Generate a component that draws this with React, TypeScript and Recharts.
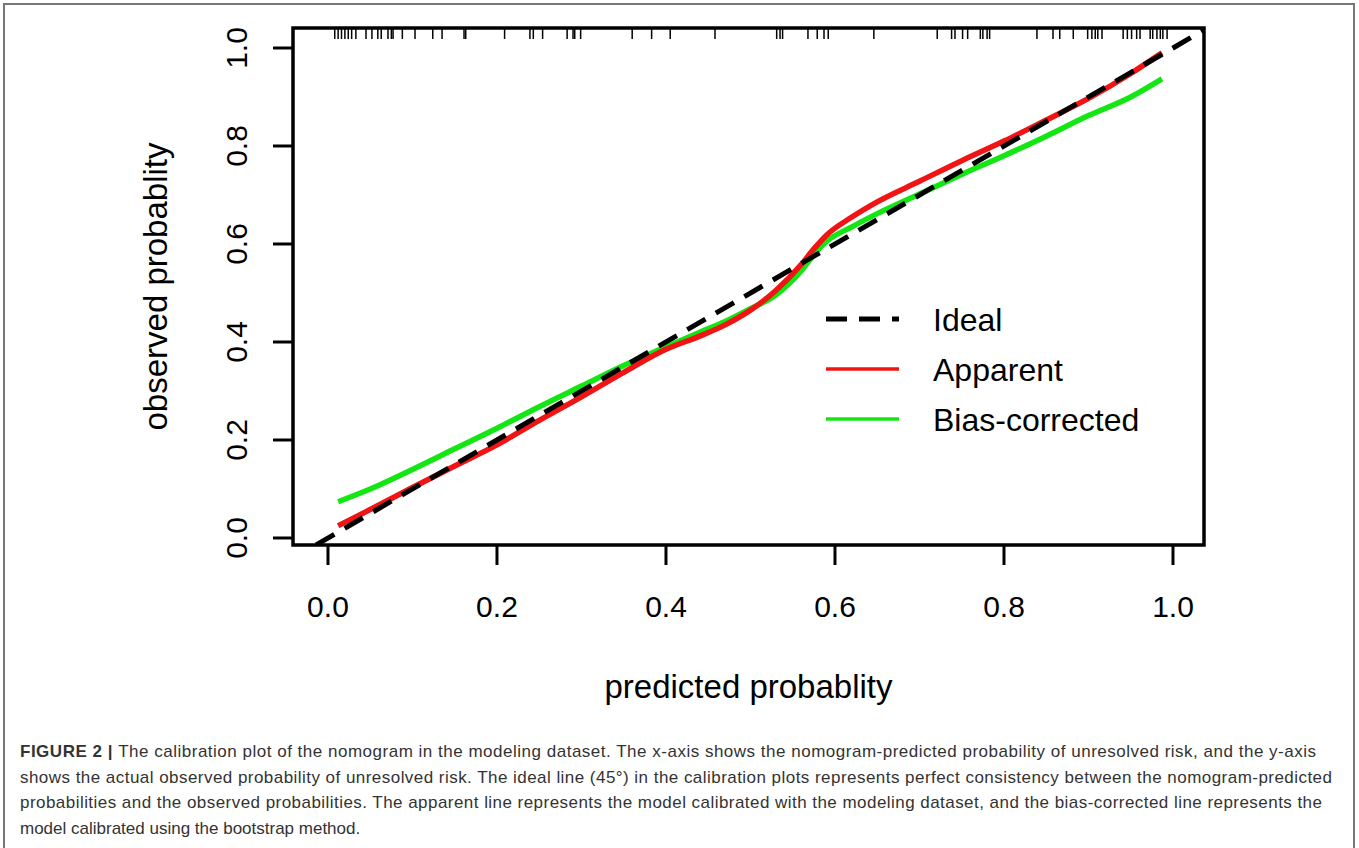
import React from 'react';
import { ComposedChart, Line, Scatter, XAxis, YAxis, ReferenceArea, Legend, Label } from 'recharts';

const FONT = '"Liberation Sans", Arial, Helvetica, sans-serif';
const RED = '#f01414';
const GREEN = '#14e614';

// calibration curves
const predicted = [0.012, 0.05, 0.1, 0.15, 0.2, 0.25, 0.3, 0.35, 0.4, 0.44, 0.47, 0.5, 0.53, 0.56, 0.575, 0.59, 0.62, 0.65, 0.7, 0.75, 0.8, 0.85, 0.9, 0.95, 0.987];
const apparent = [0.025, 0.058, 0.103, 0.147, 0.19, 0.24, 0.288, 0.338, 0.385, 0.412, 0.435, 0.465, 0.505, 0.558, 0.59, 0.618, 0.655, 0.686, 0.728, 0.77, 0.81, 0.853, 0.897, 0.948, 0.99];
const biasCorrected = [0.074, 0.1, 0.14, 0.182, 0.224, 0.268, 0.31, 0.352, 0.39, 0.42, 0.442, 0.468, 0.496, 0.545, 0.578, 0.605, 0.635, 0.662, 0.702, 0.742, 0.78, 0.82, 0.862, 0.9, 0.937];

// 45 degree reference line (clipped to the plot box)
const idealX = [-0.014, 1.0367];

// rug of predicted probabilities along the top
const rugX = [
  0.008, 0.012, 0.016, 0.02, 0.024, 0.028, 0.033, 0.045, 0.052, 0.059, 0.063, 0.071, 0.075, 0.077, 0.088,
  0.103, 0.124, 0.135, 0.161, 0.163, 0.209, 0.239, 0.243, 0.254, 0.283, 0.29, 0.292, 0.299, 0.36, 0.383,
  0.405, 0.458, 0.531, 0.535, 0.538, 0.568, 0.579, 0.587, 0.592, 0.646, 0.721, 0.738, 0.742, 0.751, 0.757,
  0.772, 0.775, 0.78, 0.783, 0.839, 0.858, 0.866, 0.882, 0.899, 0.904, 0.908, 0.911, 0.916, 0.941, 0.946,
  0.951, 0.957, 0.961, 0.973, 0.976, 0.981, 0.985, 0.988, 0.993,
];

const ticks = [0, 0.2, 0.4, 0.6, 0.8, 1.0];

const legendNames = ['Ideal', 'Apparent', 'Bias-corrected'];
const legendColors = ['#000', RED, GREEN];

const captionLines = [
  'The calibration plot of the nomogram in the modeling dataset. The x-axis shows the nomogram-predicted probability of unresolved risk, and the y-axis',
  'shows the actual observed probability of unresolved risk. The ideal line (45°) in the calibration plots represents perfect consistency between the nomogram-predicted',
  'probabilities and the observed probabilities. The apparent line represents the model calibrated with the modeling dataset, and the bias-corrected line represents the',
  'model calibrated using the bootstrap method.',
];

const xDomain: [number, number] = [-0.0414, 1.0367];
const yDomain: [number, number] = [-0.0143, 1.0408];

const apparentData = predicted.map((x, i) => ({ x, y: apparent[i] }));
const biasData = predicted.map((x, i) => ({ x, y: biasCorrected[i] }));
const idealData = idealX.map((x) => ({ x, y: x }));
const rugData = rugX.map((x) => ({ x, y: yDomain[1] }));

const XTick = ({ x, y, payload }: any) => (
  <text x={x} y={y + 52} textAnchor="middle" fontSize={30} fontFamily={FONT} fill="#000">
    {Number(payload.value).toFixed(1)}
  </text>
);

const YTick = ({ x, y, payload }: any) => {
  const bx = x - 26;
  return (
    <text x={bx} y={y} transform={`rotate(-90, ${bx}, ${y})`} textAnchor="middle" fontSize={30} fontFamily={FONT} fill="#000">
      {Number(payload.value).toFixed(1)}
    </text>
  );
};

const RugMark = (props: any) => (
  <line x1={props.cx} x2={props.cx} y1={props.cy} y2={props.cy + 11} stroke="#000" strokeWidth={1.5} />
);

const LegendBox = () => (
  <svg width={380} height={150}>
    {legendNames.map((name, i) => {
      const ly = 24 + i * 50;
      return (
        <g key={name}>
          <line
            x1={6}
            x2={79}
            y1={ly}
            y2={ly}
            stroke={legendColors[i]}
            strokeWidth={i === 0 ? 5 : 3.5}
            strokeDasharray={i === 0 ? '21 12' : undefined}
          />
          <text x={113} y={ly + 11.5} fontSize={32} fontFamily={FONT} fill="#000">{name}</text>
        </g>
      );
    })}
  </svg>
);

export default function App() {
  return (
    <div style={{ position: 'relative', width: 1359, height: 848, overflow: 'hidden', background: '#fff' }}>
      <style>{'body{margin:0}'}</style>
      <div style={{ position: 'absolute', left: 3, top: 3, width: 1348, height: 900, border: '2px solid #777' }} />
      <div style={{ position: 'absolute', left: 0, top: 0 }}>
        <ComposedChart width={1359} height={848} margin={{ top: 28, right: 155, bottom: 273, left: 233 }}>
          <XAxis
            dataKey="x"
            type="number"
            domain={xDomain}
            ticks={ticks}
            allowDataOverflow
            height={30}
            tickSize={20}
            tickMargin={0}
            axisLine={false}
            tickLine={{ stroke: '#000', strokeWidth: 3 }}
            tick={<XTick />}
          >
            <Label
              content={(p: any) => (
                <text x={p.viewBox.x + p.viewBox.width / 2} y={p.viewBox.y + 153} textAnchor="middle" fontSize={33} fontFamily={FONT} fill="#000">
                  predicted probablity
                </text>
              )}
            />
          </XAxis>
          <YAxis
            dataKey="y"
            type="number"
            domain={yDomain}
            ticks={ticks}
            allowDataOverflow
            width={60}
            tickSize={20}
            tickMargin={0}
            axisLine={false}
            tickLine={{ stroke: '#000', strokeWidth: 3 }}
            tick={<YTick />}
          >
            <Label
              content={(p: any) => {
                const lx = p.viewBox.x + p.viewBox.width - 126;
                const ly = p.viewBox.y + p.viewBox.height / 2;
                return (
                  <text x={lx} y={ly} transform={`rotate(-90, ${lx}, ${ly})`} textAnchor="middle" fontSize={33} fontFamily={FONT} fill="#000">
                    observed probablity
                  </text>
                );
              }}
            />
          </YAxis>
          <ReferenceArea x1={xDomain[0]} x2={xDomain[1]} y1={yDomain[0]} y2={yDomain[1]} fill="none" stroke="#000" strokeWidth={3.5} />
          <Scatter data={rugData} dataKey="y" shape={<RugMark />} isAnimationActive={false} legendType="none" />
          <Line data={biasData} dataKey="y" type="monotone" stroke={GREEN} strokeWidth={5.5} dot={false} isAnimationActive={false} name="Bias-corrected" />
          <Line data={apparentData} dataKey="y" type="monotone" stroke={RED} strokeWidth={5.5} dot={false} isAnimationActive={false} name="Apparent" />
          <Line data={idealData} dataKey="y" type="linear" stroke="#000" strokeWidth={5} strokeDasharray="21 12" dot={false} isAnimationActive={false} name="Ideal" />
          <Legend content={<LegendBox />} layout="horizontal" verticalAlign="middle" align="center" wrapperStyle={{ left: 820, top: 295, width: 380, height: 150 }} />
        </ComposedChart>
      </div>
      <svg width={1359} height={148} style={{ position: 'absolute', left: 0, top: 700 }}>
        <text x={20} y={57} fontSize={17} fontFamily={FONT} fill="#333" textLength={1296}>
          <tspan fontWeight="bold">FIGURE 2 | </tspan>
          {captionLines[0]}
        </text>
        <text x={20} y={83} fontSize={17} fontFamily={FONT} fill="#333" textLength={1312}>{captionLines[1]}</text>
        <text x={20} y={108} fontSize={17} fontFamily={FONT} fill="#333" textLength={1302}>{captionLines[2]}</text>
        <text x={20} y={134} fontSize={17} fontFamily={FONT} fill="#333">{captionLines[3]}</text>
      </svg>
    </div>
  );
}
